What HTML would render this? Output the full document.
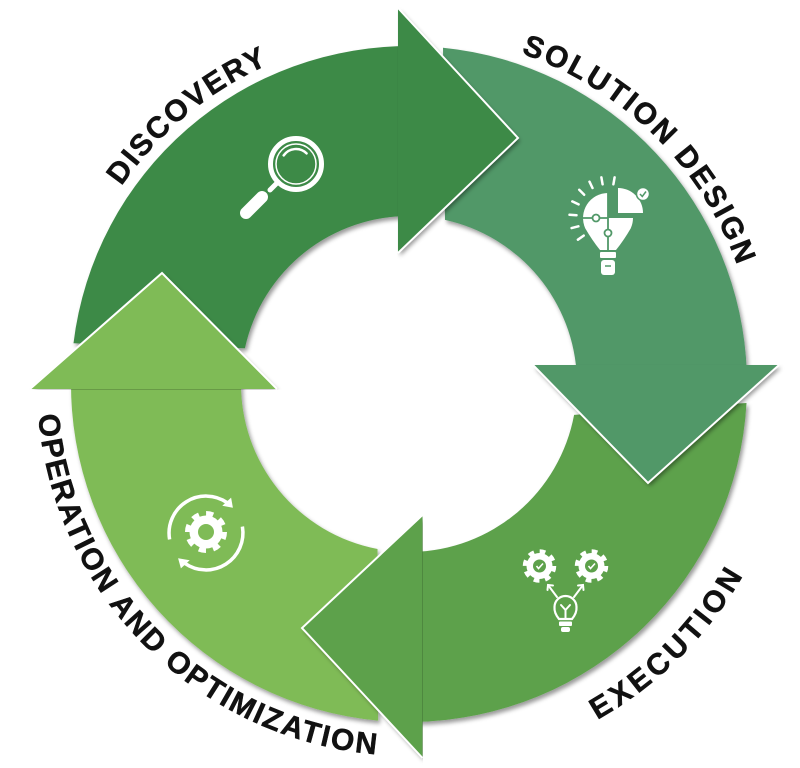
<!DOCTYPE html>
<html>
<head>
<meta charset="utf-8">
<style>
  html,body{margin:0;padding:0;background:#fff;}
  svg{display:block;}
  .lbl{font-family:"Liberation Sans",sans-serif;font-weight:700;font-size:30px;fill:#111;stroke:#111;stroke-width:0.5;}
</style>
</head>
<body>
<svg width="800" height="768" viewBox="0 0 800 768" xmlns="http://www.w3.org/2000/svg">
  <defs>
    <filter id="sh" x="-20%" y="-20%" width="140%" height="140%">
      <feDropShadow dx="2" dy="3" stdDeviation="2" flood-color="#000" flood-opacity="0.4"/>
    </filter>
    <clipPath id="cD"><rect x="397.5" y="0" width="403" height="768"/></clipPath>
    <clipPath id="cS"><rect x="0" y="364.5" width="800" height="404"/></clipPath>
    <clipPath id="cE"><rect x="0" y="0" width="423" height="768"/></clipPath>
    <clipPath id="cO"><rect x="0" y="0" width="800" height="389.5"/></clipPath>
    <path id="tp1" d="M 60 384 A 349 349 0 0 1 758 384" fill="none"/>
    <path id="bp1" d="M 24 384 A 385 385 0 0 0 794 384" fill="none"/>
    <path id="bp2" d="M 37 384 A 372 372 0 0 0 781 384" fill="none"/>
  </defs>

  <rect width="800" height="768" fill="#fff"/>

  <!-- Bands -->
  <path d="M 73.5 343.2 A 338 338 0 0 1 414.9 46.1 L 411.9 216 A 168 168 0 0 0 244.9 348.2 Z" fill="#3d8a47" filter="url(#sh)"/>
  <path d="M 443 47.7 A 338 338 0 0 1 746.8 372.2 L 576.9 378.1 A 168 168 0 0 0 445 219.9 Z" fill="#519868" filter="url(#sh)"/>
  <path d="M 746.5 403 A 338 338 0 0 1 414.9 721.9 L 411.9 552 A 168 168 0 0 0 574.1 414.9 Z" fill="#5da14b" filter="url(#sh)"/>
  <path d="M 378.1 720.6 A 338 338 0 0 1 71.05 378.1 L 241 381.1 A 168 168 0 0 0 377.5 549 Z" fill="#7fbb57" filter="url(#sh)"/>

  <!-- Arrowheads -->
  <g clip-path="url(#cD)"><polygon points="398,8 518,138 398,253" fill="#3d8a47" filter="url(#sh)"/></g>
  <polyline points="398,8 518,138 398,253" fill="none" stroke="#fff" stroke-width="2"/>

  <g clip-path="url(#cS)"><polygon points="533,365 648,483 779,365" fill="#519868" filter="url(#sh)"/></g>
  <polyline points="533,365 648,483 779,365" fill="none" stroke="#fff" stroke-width="2"/>

  <g clip-path="url(#cE)"><polygon points="422.5,515 302,628 422.5,758" fill="#5da14b" filter="url(#sh)"/></g>
  <polyline points="422.5,515 302,628 422.5,758" fill="none" stroke="#fff" stroke-width="2"/>

  <g clip-path="url(#cO)"><polygon points="30,389 162,273 277,389" fill="#7fbb57" filter="url(#sh)"/></g>
  <polyline points="30,389 162,273 277,389" fill="none" stroke="#fff" stroke-width="2"/>

  <!-- Magnifier icon -->
  <g fill="none" stroke="#fff" stroke-linecap="round">
    <circle cx="296" cy="164" r="25.5" stroke-width="5"/>
    <circle cx="296" cy="164" r="20" stroke-width="1.5"/>
    <path d="M 283.7 155.4 A 15 15 0 0 1 306.6 153.4" stroke-width="2.5"/>
    <line x1="278" y1="182" x2="270" y2="190" stroke-width="5"/>
    <line x1="262" y1="197" x2="246" y2="213" stroke-width="12"/>
  </g>

  <!-- Puzzle bulb icon -->
  <g>
    <g stroke="#fff" stroke-width="2.5" stroke-linecap="round">
      <line x1="583.7" y1="235.6" x2="577.9" y2="239.7"/>
      <line x1="578.4" y1="226.3" x2="571.6" y2="228.1"/>
      <line x1="576.5" y1="215.3" x2="569.5" y2="214.7"/>
      <line x1="578.6" y1="204.4" x2="572.3" y2="201.4"/>
      <line x1="584.2" y1="194.8" x2="579.2" y2="189.8"/>
      <line x1="592.5" y1="188" x2="589.5" y2="181.7"/>
      <line x1="602.6" y1="184.3" x2="601.4" y2="177.4"/>
      <line x1="613.4" y1="184.3" x2="614.6" y2="177.4"/>
    </g>
    <path d="M 608 193 A 25 25 0 0 0 585.2 228.2 Q 592 240 600 250 L 608 250 Z" fill="#fff"/>
    <path d="M 608 218 L 633 218 A 25 25 0 0 1 630.8 228.2 Q 624 240 616 250 L 608 250 Z" fill="#fff"/>
    <path d="M 618 213 L 618 188 A 25 25 0 0 1 643 213 Z" fill="#fff"/>
    <g stroke="#519868" stroke-width="1.8" fill="none">
      <line x1="583" y1="218" x2="608" y2="218"/>
      <line x1="608" y1="193" x2="608" y2="250"/>
      <circle cx="596" cy="218" r="3.5" fill="#fff"/>
      <circle cx="608" cy="233" r="3.5" fill="#fff"/>
    </g>
    <circle cx="643" cy="194" r="6.5" fill="#fff" stroke="#519868" stroke-width="1.5"/>
    <polyline points="640,194 642.3,196.5 646,191.5" fill="none" stroke="#519868" stroke-width="1.5"/>
    <rect x="600" y="252" width="16" height="6" rx="1" fill="#fff"/>
    <rect x="601" y="260" width="14" height="15" rx="3" fill="#fff"/>
    <line x1="605" y1="266" x2="611" y2="266" stroke="#519868" stroke-width="1.5"/>
  </g>

  <!-- Execution icon -->
  <g>
    <g>
      <circle cx="539.5" cy="566" r="13" fill="#fff"/>
      <circle cx="539.5" cy="566" r="14.5" fill="none" stroke="#fff" stroke-width="4.5" stroke-dasharray="5.7 5.7"/>
      <circle cx="539.5" cy="566" r="6.5" fill="#5da14b"/>
      <polyline points="536.5,566 538.5,568.5 543,563.5" fill="none" stroke="#fff" stroke-width="1.6"/>
    </g>
    <g>
      <circle cx="591.5" cy="566" r="13" fill="#fff"/>
      <circle cx="591.5" cy="566" r="14.5" fill="none" stroke="#fff" stroke-width="4.5" stroke-dasharray="5.7 5.7"/>
      <circle cx="591.5" cy="566" r="6.5" fill="#5da14b"/>
      <polyline points="588.5,566 590.5,568.5 595,563.5" fill="none" stroke="#fff" stroke-width="1.6"/>
    </g>
    <g stroke="#fff" stroke-width="2" fill="none" stroke-linecap="round">
      <line x1="557" y1="597" x2="548" y2="585"/>
      <polyline points="547.5,590 548,585 553,585.5"/>
      <line x1="574" y1="597" x2="583" y2="585"/>
      <polyline points="578,585.5 583,585 583.5,590"/>
      <path d="M 559 619 Q 554 613 554.5 607 A 11 11 0 0 1 576.5 607 Q 577 613 572 619 Z" stroke-width="2.2"/>
      <line x1="565.5" y1="610" x2="565.5" y2="619"/>
      <line x1="561" y1="605" x2="565.5" y2="610"/>
      <line x1="570" y1="605" x2="565.5" y2="610"/>
    </g>
    <rect x="559" y="621.5" width="13" height="4.5" rx="1" fill="#fff"/>
    <rect x="561" y="627" width="9" height="5" rx="2" fill="#fff"/>
  </g>

  <!-- Operation icon -->
  <g>
    <g fill="none" stroke="#fff" stroke-width="3.5">
      <path d="M 169.6 539.4 A 37 37 0 0 1 227.2 502.7"/>
      <path d="M 242.4 526.6 A 37 37 0 0 1 184.8 563.3"/>
    </g>
    <polygon points="232.9,507.7 231.1,497.6 222.3,505.8" fill="#fff"/>
    <polygon points="178.1,558.3 180.9,568.4 189.7,560.2" fill="#fff"/>
    <circle cx="206" cy="532" r="16.5" fill="#fff"/>
    <circle cx="206" cy="532" r="18.5" fill="none" stroke="#fff" stroke-width="5" stroke-dasharray="7.26 7.26"/>
    <circle cx="206" cy="532" r="8" fill="#7fbb57"/>
  </g>

  <!-- Labels -->
  <text class="lbl" letter-spacing="2.1"><textPath href="#tp1" startOffset="28.06%" text-anchor="middle">DISCOVERY</textPath></text>
  <text class="lbl" letter-spacing="2.45"><textPath href="#tp1" startOffset="74.78%" text-anchor="middle">SOLUTION DESIGN</textPath></text>
  <text class="lbl" letter-spacing="4"><textPath href="#bp1" startOffset="75%" text-anchor="middle">EXECUTION</textPath></text>
  <text class="lbl" letter-spacing="2"><textPath href="#bp2" startOffset="25%" text-anchor="middle">OPERATION AND OPTIMIZATION</textPath></text>
</svg>
</body>
</html>
